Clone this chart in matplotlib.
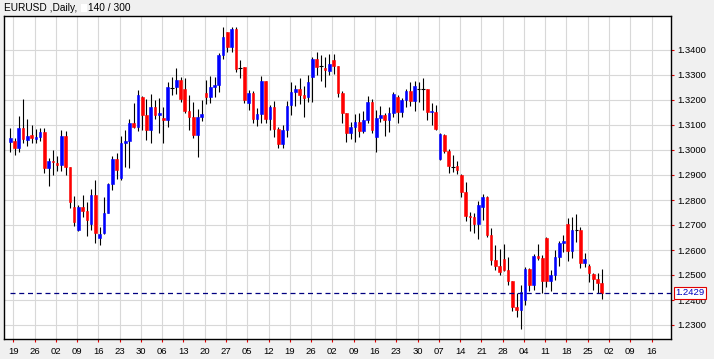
import numpy as np
import matplotlib
matplotlib.use("Agg")
import matplotlib.pyplot as plt
import matplotlib.transforms as mtransforms
from matplotlib.patches import Rectangle

symbol_title = "EURUSD ,Daily,"
bars_info = "140 / 300"

opens = [
    1.3033, 1.3036, 1.3009, 1.3089, 1.3040, 1.3060, 1.3045, 1.3052, 1.3072, 1.2929,
    1.2956, 1.2949, 1.2939, 1.3056, 1.2933, 1.2773, 1.2680, 1.2771, 1.2756, 1.2704,
    1.2820, 1.2649, 1.2669, 1.2749, 1.2864, 1.2963, 1.2889, 1.3029, 1.3037, 1.3107,
    1.3093, 1.3213, 1.3140, 1.3080, 1.3171, 1.3140, 1.3129, 1.3120, 1.3250, 1.3253,
    1.3280, 1.3244, 1.3157, 1.3133, 1.3060, 1.3133, 1.3229, 1.3213, 1.3253, 1.3260,
    1.3380, 1.3471, 1.3413, 1.3484, 1.3329, 1.3333, 1.3189, 1.3229, 1.3124, 1.3143,
    1.3276, 1.3124, 1.3173, 1.3084, 1.3024, 1.3080, 1.3180, 1.3233, 1.3244, 1.3220,
    1.3211, 1.3291, 1.3364, 1.3335, 1.3327, 1.3317, 1.3360, 1.3337, 1.3229, 1.3149,
    1.3069, 1.3091, 1.3112, 1.3077, 1.3120, 1.3193, 1.3051, 1.3127, 1.3140, 1.3120,
    1.3149, 1.3213, 1.3153, 1.3200, 1.3236, 1.3197, 1.3243, 1.3244, 1.3244, 1.3153,
    1.3153, 1.2964, 1.3060, 1.2996, 1.2933, 1.2936, 1.2900, 1.2833, 1.2736, 1.2731,
    1.2703, 1.2773, 1.2811, 1.2660, 1.2560, 1.2537, 1.2563, 1.2520, 1.2476, 1.2373,
    1.2360, 1.2400, 1.2524, 1.2460, 1.2577, 1.2569, 1.2647, 1.2477, 1.2500, 1.2573,
    1.2629, 1.2704, 1.2597, 1.2680, 1.2680, 1.2549, 1.2537, 1.2504, 1.2484, 1.2467,
]
highs = [
    1.3089, 1.3047, 1.3136, 1.3204, 1.3124, 1.3100, 1.3085, 1.3089, 1.3087, 1.2968,
    1.3000, 1.2976, 1.3080, 1.3076, 1.2933, 1.2817, 1.2780, 1.2820, 1.2793, 1.2844,
    1.2880, 1.2693, 1.2811, 1.2869, 1.2976, 1.2989, 1.3056, 1.3080, 1.3125, 1.3189,
    1.3240, 1.3217, 1.3203, 1.3224, 1.3200, 1.3207, 1.3173, 1.3272, 1.3291, 1.3327,
    1.3293, 1.3287, 1.3220, 1.3193, 1.3163, 1.3200, 1.3280, 1.3296, 1.3293, 1.3387,
    1.3491, 1.3471, 1.3491, 1.3493, 1.3360, 1.3333, 1.3240, 1.3236, 1.3167, 1.3296,
    1.3276, 1.3180, 1.3196, 1.3093, 1.3100, 1.3196, 1.3273, 1.3260, 1.3289, 1.3256,
    1.3300, 1.3373, 1.3391, 1.3380, 1.3373, 1.3383, 1.3384, 1.3337, 1.3236, 1.3149,
    1.3113, 1.3143, 1.3147, 1.3157, 1.3216, 1.3203, 1.3160, 1.3176, 1.3149, 1.3171,
    1.3233, 1.3220, 1.3207, 1.3243, 1.3273, 1.3276, 1.3273, 1.3287, 1.3244, 1.3187,
    1.3180, 1.3067, 1.3064, 1.3003, 1.2980, 1.2957, 1.2904, 1.2873, 1.2753, 1.2747,
    1.2796, 1.2824, 1.2816, 1.2687, 1.2620, 1.2604, 1.2624, 1.2573, 1.2476, 1.2427,
    1.2460, 1.2531, 1.2527, 1.2583, 1.2623, 1.2580, 1.2651, 1.2520, 1.2600, 1.2637,
    1.2660, 1.2729, 1.2733, 1.2744, 1.2693, 1.2589, 1.2544, 1.2509, 1.2507, 1.2524,
]
lows = [
    1.2993, 1.2981, 1.2993, 1.3027, 1.3016, 1.3027, 1.3027, 1.3037, 1.2909, 1.2857,
    1.2900, 1.2917, 1.2917, 1.2899, 1.2769, 1.2696, 1.2675, 1.2733, 1.2657, 1.2680,
    1.2627, 1.2621, 1.2664, 1.2747, 1.2840, 1.2884, 1.2880, 1.2933, 1.2929, 1.3087,
    1.3077, 1.3080, 1.3040, 1.3027, 1.3123, 1.3067, 1.3027, 1.3091, 1.3219, 1.3223,
    1.3193, 1.3147, 1.3080, 1.3047, 1.2973, 1.3117, 1.3183, 1.3189, 1.3213, 1.3233,
    1.3363, 1.3393, 1.3393, 1.3313, 1.3287, 1.3189, 1.3160, 1.3107, 1.3096, 1.3107,
    1.3107, 1.3080, 1.3053, 1.3009, 1.3007, 1.3051, 1.3140, 1.3176, 1.3183, 1.3133,
    1.3193, 1.3193, 1.3300, 1.3277, 1.3253, 1.3300, 1.3303, 1.3213, 1.3107, 1.3033,
    1.3044, 1.3033, 1.3053, 1.3067, 1.3107, 1.3067, 1.2993, 1.3113, 1.3057, 1.3071,
    1.3133, 1.3107, 1.3133, 1.3173, 1.3176, 1.3157, 1.3193, 1.3160, 1.3120, 1.3100,
    1.3080, 1.2960, 1.2987, 1.2909, 1.2913, 1.2904, 1.2813, 1.2717, 1.2677, 1.2667,
    1.2643, 1.2720, 1.2653, 1.2540, 1.2520, 1.2500, 1.2517, 1.2460, 1.2357, 1.2333,
    1.2283, 1.2380, 1.2437, 1.2440, 1.2560, 1.2427, 1.2453, 1.2437, 1.2480, 1.2537,
    1.2593, 1.2557, 1.2567, 1.2633, 1.2527, 1.2533, 1.2471, 1.2440, 1.2429, 1.2403,
]
closes = [
    1.3049, 1.3009, 1.3089, 1.3043, 1.3056, 1.3049, 1.3053, 1.3072, 1.2929, 1.2956,
    1.2952, 1.2940, 1.3056, 1.2933, 1.2793, 1.2713, 1.2773, 1.2756, 1.2720, 1.2820,
    1.2669, 1.2664, 1.2749, 1.2864, 1.2963, 1.2920, 1.3029, 1.3036, 1.3107, 1.3091,
    1.3220, 1.3140, 1.3080, 1.3171, 1.3140, 1.3148, 1.3120, 1.3252, 1.3250, 1.3280,
    1.3205, 1.3157, 1.3133, 1.3060, 1.3133, 1.3144, 1.3213, 1.3253, 1.3260, 1.3380,
    1.3453, 1.3413, 1.3484, 1.3323, 1.3329, 1.3200, 1.3227, 1.3124, 1.3143, 1.3276,
    1.3124, 1.3173, 1.3084, 1.3024, 1.3080, 1.3176, 1.3233, 1.3244, 1.3220, 1.3209,
    1.3273, 1.3364, 1.3333, 1.3335, 1.3320, 1.3344, 1.3337, 1.3229, 1.3149, 1.3069,
    1.3091, 1.3112, 1.3077, 1.3120, 1.3193, 1.3080, 1.3127, 1.3140, 1.3120, 1.3147,
    1.3224, 1.3153, 1.3200, 1.3236, 1.3197, 1.3256, 1.3243, 1.3244, 1.3153, 1.3157,
    1.3084, 1.3064, 1.2996, 1.2937, 1.2933, 1.2920, 1.2833, 1.2737, 1.2733, 1.2703,
    1.2780, 1.2811, 1.2660, 1.2560, 1.2537, 1.2513, 1.2520, 1.2477, 1.2373, 1.2360,
    1.2431, 1.2524, 1.2460, 1.2576, 1.2569, 1.2477, 1.2477, 1.2500, 1.2573, 1.2629,
    1.2636, 1.2597, 1.2680, 1.2680, 1.2549, 1.2564, 1.2507, 1.2484, 1.2467, 1.2429,
]

week_labels = ["19", "26", "02", "09", "16", "23", "30", "06", "13", "20", "27",
               "05", "12", "19", "26", "02", "09", "16", "23", "30", "07", "14",
               "21", "28", "04", "11", "18", "25", "02", "09", "16"]
price_ticks = [1.23, 1.24, 1.25, 1.26, 1.27, 1.28, 1.29, 1.30, 1.31, 1.32, 1.33, 1.34]

O = np.array(opens); H = np.array(highs); L = np.array(lows); C = np.array(closes)
n = len(O)
idx = np.arange(n)

FONT = "Liberation Sans"
W, Hh = 714, 359
fig = plt.figure(figsize=(W / 100, Hh / 100), dpi=100, facecolor="#f0f0f0")
ax = fig.add_axes([4 / W, (Hh - 339) / Hh, (670.7 - 4) / W, (339 - 16) / Hh])
ax.set_facecolor("white")

ax.set_xlim(-1.48, 155.2)
ax.set_ylim(1.2244, 1.3536)

tick_pos = [1 + 5 * k - 0.3 for k in range(len(week_labels))]
ax.set_xticks(tick_pos)
ax.set_xticklabels(week_labels, fontsize=6.8, family=FONT)
ax.set_yticks(price_ticks)
ax.set_yticklabels([f"{v:.4f}" for v in price_ticks], fontsize=6.8, family=FONT)
ax.yaxis.tick_right()
ax.tick_params(axis="both", colors="#e00000", labelcolor="black", length=2.5,
               width=0.8, direction="out")
ax.tick_params(axis="x", pad=3)
ax.tick_params(axis="y", pad=2)
ax.grid(True, color="#d8d8d8", lw=0.8, zorder=0)
ax.set_axisbelow(True)
for s in ax.spines.values():
    s.set_color("black")
    s.set_linewidth(1.0)

up = C > O
down = C < O
doji = C == O
ax.vlines(idx, L, H, color="black", lw=0.8, zorder=2)
ax.bar(idx[up], (C - O)[up], bottom=O[up], width=0.62, color="#0000ff",
       edgecolor="#0000ff", lw=0.4, zorder=3)
ax.bar(idx[down], (O - C)[down], bottom=C[down], width=0.62, color="#ff0000",
       edgecolor="#ff0000", lw=0.4, zorder=3)
ax.hlines(C[doji], idx[doji] - 0.4, idx[doji] + 0.4, color="black", lw=0.8, zorder=3)

last = C[-1]
ax.hlines(last, -0.1, 155.2, color="#000080", lw=0.9, linestyles=(0, (4, 3)), zorder=4)

trans = mtransforms.blended_transform_factory(ax.transAxes, ax.transData)
ax.text(1.0 + 5 / 666.7, last, f"{last:.4f}", transform=trans, ha="left", va="center",
        fontsize=6.8, family=FONT, color="#0000c0", zorder=10,
        bbox=dict(boxstyle="square,pad=0.15", fc="white", ec="#e00000", lw=0.8))

fig.text(4 / W, 1 - 8 / Hh, symbol_title, ha="left", va="center", fontsize=7.3,
         family=FONT, color="black")
fig.patches.append(Rectangle((81 / W, 1 - 12 / Hh), 6 / W, 8 / Hh, transform=fig.transFigure,
                             fc="white", ec="none"))
fig.text(88 / W, 1 - 8 / Hh, bars_info, ha="left", va="center", fontsize=7.3,
         family=FONT, color="black")

fig.savefig("out.png", dpi=100, facecolor=fig.get_facecolor())
